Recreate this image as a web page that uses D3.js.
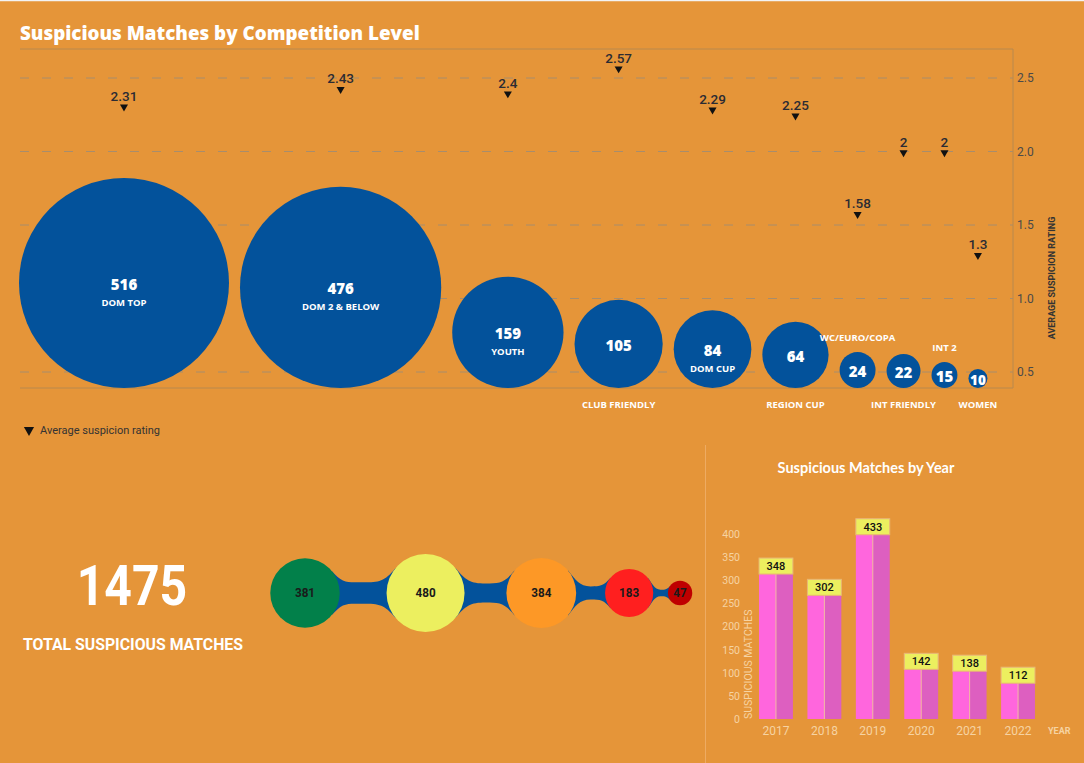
<!DOCTYPE html>
<html>
<head>
<meta charset="utf-8">
<script src="https://cdn.jsdelivr.net/npm/d3@7"></script>
<style>
  html, body { margin: 0; padding: 0; background: #e59539; }
  svg { display: block; }
</style>
</head>
<body>
<div id="chart"></div>
<script>
var width = 1084,
height = 763;

// competition level data
var levels = ["DOM TOP","DOM 2 & BELOW","YOUTH","CLUB FRIENDLY","DOM CUP","REGION CUP","WC/EURO/COPA","INT FRIENDLY","INT 2","WOMEN"];
var matchCounts = [516,476,159,105,84,64,24,22,15,10];
var avgRating = [2.31,2.43,2.4,2.57,2.29,2.25,1.58,2,2,1.3];
var labelSpot = ["in","in","in","below","in","below","above","below","above","below"];
var ratingTicks = [0.5,1.0,1.5,2.0,2.5];

// rating bands (chain of bubbles)
var totalMatches = 1475;
var bandCounts = [381,480,384,183,47];
var bandColors = ["#02804a","#ecef5f","#fd9826","#ff1f1f","#bf0000"];

// by year
var years = ["2017","2018","2019","2020","2021","2022"];
var yearCounts = [348,302,433,142,138,112];
var countTicks = [0,50,100,150,200,250,300,350,400];

var blue = "#03529b";

var svg = d3.select('#chart').append('svg')
    .attr('width', width)
    .attr('height', height);

svg.append("rect").attr("width", width).attr("height", height).attr("fill", "#e59539");
svg.append("line").attr("x1",0).attr("x2",width).attr("y1",0.5).attr("y2",0.5)
    .attr("stroke","#f3f3f3").attr("stroke-width",1.5);

// ---------- top chart ----------
var plotL = 20, plotR = 1013, plotT = 49, plotB = 388;

svg.append("text")
    .attr("x", 20).attr("y", 40)
    .attr("font-family", "'Open Sans', sans-serif")
    .attr("font-weight", 800)
    .attr("font-size", 18.8)
    .attr("fill", "#fff")
    .text("Suspicious Matches by Competition Level");

let scaleY = d3.scaleLinear().domain([0.5,2.5]).range([372,78]);
let scaleR = d3.scaleSqrt().domain([10,516]).range([9.5,105]);

var g = svg.append('g');

// gridlines
g.selectAll(".grid").data(ratingTicks).enter().append("line")
    .attr("class","grid")
    .attr("x1", plotL).attr("x2", plotR)
    .attr("y1", d => scaleY(d)).attr("y2", d => scaleY(d))
    .attr("stroke", "#a88d6c")
    .attr("stroke-width", 1)
    .attr("stroke-dasharray", "9,13");

// frame
g.append("path")
    .attr("d", "M"+plotL+","+plotT+"H"+plotR+"V"+plotB+"H"+plotL)
    .attr("fill","none")
    .attr("stroke","#b8894f")
    .attr("stroke-width",1);

// right axis
var axisRating = d3.axisRight(scaleY)
    .tickValues(ratingTicks)
    .tickFormat(d3.format(".1f"))
    .tickSize(0)
    .tickPadding(4);
var ax = g.append("g").attr("transform","translate("+plotR+",0)").call(axisRating);
ax.select(".domain").remove();
ax.selectAll("text")
    .attr("font-family","Roboto, sans-serif")
    .attr("font-size", 12)
    .attr("fill","#4a4a4a");

g.append("text")
    .attr("transform","translate(1055,278) rotate(-90)")
    .attr("text-anchor","middle")
    .attr("font-family","Roboto, sans-serif")
    .attr("font-weight",700)
    .attr("font-size",9)
    .attr("fill","#333")
    .text("AVERAGE SUSPICION RATING");

// pack circles left to right
var gap = 11;
var nodes = [];
let cursor = plotL - 1;
levels.forEach((name,i) => {
    let r = scaleR(matchCounts[i]);
    nodes.push({name: name, count: matchCounts[i], rating: avgRating[i], spot: labelSpot[i], r: r, cx: cursor + r, cy: plotB - r});
    cursor += 2*r + gap;
});

g.selectAll(".bubble").data(nodes).enter().append("circle")
    .attr("class","bubble")
    .attr("cx", d => d.cx)
    .attr("cy", d => d.cy)
    .attr("r", d => d.r)
    .attr("fill", blue);

g.selectAll(".bval").data(nodes).enter().append("text")
    .attr("class","bval")
    .attr("x", d => d.cx)
    .attr("y", d => d.cy + 1)
    .attr("text-anchor","middle")
    .attr("dominant-baseline","central")
    .attr("font-family","'Open Sans', sans-serif")
    .attr("font-weight",800)
    .attr("font-size", d => d.r < 12 ? 13.5 : 15)
    .attr("fill","#fff")
    .text(d => d.count);

g.selectAll(".blab").data(nodes).enter().append("text")
    .attr("class","blab")
    .attr("x", d => d.cx)
    .attr("y", d => {
        if (d.spot == "in") return d.cy + 19;
        if (d.spot == "below") return plotB + 16;
        return d.cy - d.r - 15;
    })
    .attr("text-anchor","middle")
    .attr("dominant-baseline","central")
    .attr("font-family","'Open Sans', sans-serif")
    .attr("font-weight",700)
    .attr("font-size",9.5)
    .attr("fill","#fff")
    .text(d => d.name);

// rating markers
var tri = d3.symbol().type(d3.symbolTriangle).size(28);
g.selectAll(".marker").data(nodes).enter().append("path")
    .attr("class","marker")
    .attr("d", tri)
    .attr("transform", d => "translate("+d.cx+","+(scaleY(d.rating)+1)+") rotate(180)")
    .attr("fill","#111");

g.selectAll(".mlab").data(nodes).enter().append("text")
    .attr("class","mlab")
    .attr("x", d => d.cx)
    .attr("y", d => scaleY(d.rating) - 5)
    .attr("text-anchor","middle")
    .attr("font-family","Roboto, sans-serif")
    .attr("font-weight",500)
    .attr("font-size",13.5)
    .attr("fill","#2b2b33")
    .text(d => d.rating);

// legend
var legend = svg.append("g").attr("transform","translate(29,430)");
legend.append("path").attr("d", d3.symbol().type(d3.symbolTriangle).size(45))
    .attr("transform","rotate(180)").attr("fill","#111");
legend.append("text")
    .attr("x", 11).attr("y", 4)
    .attr("font-family","Roboto, sans-serif")
    .attr("font-size",11)
    .attr("fill","#333")
    .text("Average suspicion rating");

// ---------- total + bubble chain ----------
svg.append("text")
    .attr("transform","translate(132,605) scale(0.86,1)")
    .attr("text-anchor","middle")
    .attr("font-family","Roboto, sans-serif")
    .attr("font-weight",700)
    .attr("font-size",56)
    .attr("fill","#fff")
    .text(totalMatches);

svg.append("text")
    .attr("transform","translate(133,650) scale(0.93,1)")
    .attr("text-anchor","middle")
    .attr("font-family","Roboto, sans-serif")
    .attr("font-weight",700)
    .attr("font-size",17)
    .attr("fill","#fff")
    .text("TOTAL SUSPICIOUS MATCHES");

let chainR = d3.scaleSqrt().domain([0,480]).range([0,39]);
var chainY = 593;
var chain = [];
let cx = 305;
bandCounts.forEach((v,i) => {
    let r = chainR(v);
    if (i > 0) cx += chain[i-1].r + 2.2*r;
    chain.push({v: v, r: r, cx: cx, color: bandColors[i]});
});

function connector(a, b) {
    let t = b.r * 0.55;
    let th = 40 * Math.PI/180;
    let s = Math.sin(th), c = Math.cos(th);
    let p1 = [a.cx + a.r*c, chainY - a.r*s];
    let p2 = [b.cx - b.r*c, chainY - b.r*s];
    let mx = (a.cx + a.r + b.cx - b.r)/2;
    let d1 = (mx - p1[0])*0.55, d2 = (p2[0] - mx)*0.55;
    let h1 = (mx - p1[0])*0.5, h2 = (p2[0] - mx)*0.5;
    let path = d3.path();
    path.moveTo(p1[0], p1[1]);
    path.bezierCurveTo(p1[0]+d1*s, p1[1]+d1*c, mx-h1, chainY-t/2, mx, chainY-t/2);
    path.bezierCurveTo(mx+h2, chainY-t/2, p2[0]-d2*s, p2[1]+d2*c, p2[0], p2[1]);
    path.lineTo(p2[0], 2*chainY - p2[1]);
    path.bezierCurveTo(p2[0]-d2*s, 2*chainY-p2[1]-d2*c, mx+h2, chainY+t/2, mx, chainY+t/2);
    path.bezierCurveTo(mx-h1, chainY+t/2, p1[0]+d1*s, 2*chainY-p1[1]-d1*c, p1[0], 2*chainY-p1[1]);
    path.closePath();
    return path.toString();
}

var links = d3.pairs(chain);
svg.selectAll(".link").data(links).enter().append("path")
    .attr("class","link")
    .attr("d", d => connector(d[0], d[1]))
    .attr("fill", blue);

svg.selectAll(".cnode").data(chain).enter().append("circle")
    .attr("class","cnode")
    .attr("cx", d => d.cx).attr("cy", chainY)
    .attr("r", d => d.r)
    .attr("fill", d => d.color);

svg.selectAll(".clab").data(chain).enter().append("text")
    .attr("class","clab")
    .attr("transform", d => "translate("+d.cx+","+chainY+") scale(0.9,1)")
    .attr("text-anchor","middle")
    .attr("dominant-baseline","central")
    .attr("font-family","Roboto, sans-serif")
    .attr("font-weight",700)
    .attr("font-size",13)
    .attr("fill","#1a1a1a")
    .text(d => d.v);

// ---------- by year bars ----------
svg.append("line")
    .attr("x1",705.5).attr("x2",705.5).attr("y1",445).attr("y2",height)
    .attr("stroke","#eeab62").attr("stroke-width",1);

svg.append("text")
    .attr("x", 866).attr("y", 473)
    .attr("text-anchor","middle")
    .attr("font-family","Lato, sans-serif")
    .attr("font-weight",700)
    .attr("font-size",14.5)
    .attr("fill","#fff")
    .text("Suspicious Matches by Year");

let scaleX = d3.scaleBand().domain(years).range([744.5,1049.5]).paddingInner(0.3).paddingOuter(0.3);
let scaleCount = d3.scaleLinear().domain([0,400]).range([719,534]);
var pale = "#f6d3a2";

var axisCount = d3.axisLeft(scaleCount).tickValues(countTicks).tickSize(0).tickPadding(2);
var axc = svg.append("g").attr("transform","translate(742,0)").call(axisCount);
axc.select(".domain").remove();
axc.selectAll("text").attr("font-family","Roboto, sans-serif").attr("font-size",10.5).attr("fill",pale);

var axisYear = d3.axisBottom(scaleX).tickSize(0).tickPadding(7);
var axy = svg.append("g").attr("transform","translate(0,719)").call(axisYear);
axy.select(".domain").remove();
axy.selectAll("text").attr("font-family","Roboto, sans-serif").attr("font-size",12).attr("fill",pale);

svg.append("text")
    .attr("x", 1048).attr("y", 734)
    .attr("font-family","Roboto, sans-serif").attr("font-weight",700)
    .attr("font-size",9).attr("fill",pale)
    .text("YEAR");

svg.append("text")
    .attr("transform","translate(752,719) rotate(-90)")
    .attr("font-family","Roboto, sans-serif")
    .attr("font-size",10.5)
    .attr("fill",pale)
    .text("SUSPICIOUS MATCHES");

var bars = svg.selectAll(".year").data(years).enter().append("g").attr("class","year");
var half = scaleX.bandwidth()/2;
bars.append("rect")
    .attr("x", d => scaleX(d))
    .attr("y", (d,i) => scaleCount(yearCounts[i]))
    .attr("width", half)
    .attr("height", (d,i) => scaleCount(0) - scaleCount(yearCounts[i]))
    .attr("fill","#ff66dd");
bars.append("rect")
    .attr("x", d => scaleX(d) + half)
    .attr("y", (d,i) => scaleCount(yearCounts[i]))
    .attr("width", half)
    .attr("height", (d,i) => scaleCount(0) - scaleCount(yearCounts[i]))
    .attr("fill","#dd5fc0");
bars.append("line")
    .attr("x1", d => scaleX(d) + half).attr("x2", d => scaleX(d) + half)
    .attr("y1", (d,i) => scaleCount(yearCounts[i]))
    .attr("y2", scaleCount(0))
    .attr("stroke","#f3b9a8").attr("stroke-width",1);
bars.append("rect")
    .attr("x", d => scaleX(d))
    .attr("y", (d,i) => scaleCount(yearCounts[i]))
    .attr("width", scaleX.bandwidth())
    .attr("height", 16)
    .attr("fill","#ecef5f")
    .attr("stroke","#e9b872").attr("stroke-width",1);
bars.append("text")
    .attr("x", d => scaleX(d) + half)
    .attr("y", (d,i) => scaleCount(yearCounts[i]) + 8.5)
    .attr("text-anchor","middle")
    .attr("dominant-baseline","central")
    .attr("font-family","Roboto, sans-serif")
    .attr("font-size",11)
    .attr("font-weight",500)
    .attr("fill","#111")
    .text((d,i) => yearCounts[i]);
</script>
</body>
</html>
